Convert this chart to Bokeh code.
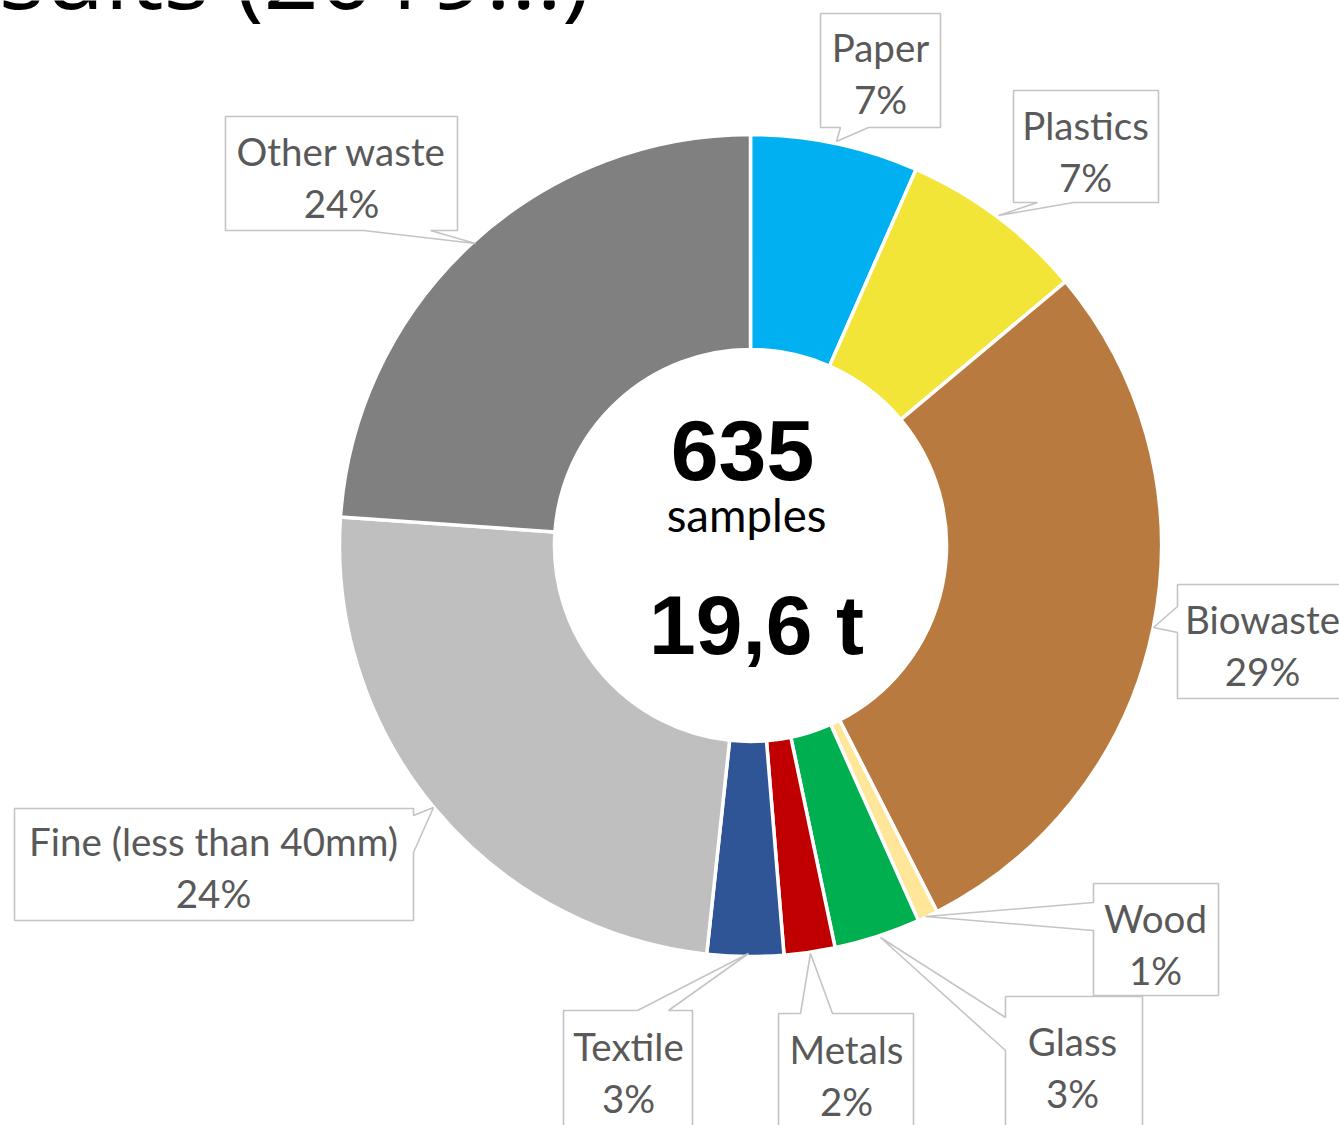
import numpy as np
from bokeh.plotting import figure
from bokeh.models import Range1d, ColumnDataSource
from bokeh.core.properties import value
from bokeh.embed import file_html
from bokeh.resources import INLINE

# ---------------- data ----------------
categories = ["Paper", "Plastics", "Biowaste", "Wood", "Glass", "Metals",
              "Textile", "Fine (less than 40mm)", "Other waste"]
shares = [6.6, 7.3, 28.6, 0.8, 3.4, 2.0, 3.0, 24.4, 23.9]
colors = ["#00B0F0", "#F2E537", "#B87A3E", "#FFE699", "#00B050", "#C00000",
          "#2F5597", "#BFBFBF", "#808080"]
center_count = "635"
center_count_label = "samples"
center_mass = "19,6 t"
title_text = "Results (2019...)"

# ---------------- layout (pixel coords, y measured from top) ----------------
W, H = 1339, 1125
CX, CY = 750, 545
R_IN, R_OUT = 196, 411

# callout: box (x0, y0, x1, y1), wedge side, wedge base (a, b), tip, text centre x, first line middle y
callouts = {
    "Paper":    dict(box=(820, 13, 940, 127), side="bottom", base=(840, 868), tip=(836, 141), tx=880, ty=46),
    "Plastics": dict(box=(1013, 90, 1158, 202), side="bottom", base=(1037, 1073), tip=(998, 215), tx=1085, ty=124),
    "Biowaste": dict(box=(1177, 584, 1350, 698), side="left", base=(606, 632), tip=(1153, 627), tx=1262, ty=618),
    "Wood":     dict(box=(1093, 883, 1218, 995), side="left", base=(902, 930), tip=(925, 916), tx=1155, ty=917),
    "Glass":    dict(box=(1005, 996, 1142, 1140), side="left", base=(1017, 1050), tip=(880, 937), tx=1072, ty=1040),
    "Metals":   dict(box=(778, 1013, 913, 1140), side="top", base=(800, 832), tip=(810, 953), tx=846, ty=1048),
    "Textile":  dict(box=(563, 1010, 692, 1140), side="top", base=(637, 668), tip=(748, 953), tx=628, ty=1045),
    "Fine (less than 40mm)": dict(box=(14, 808, 413, 920), side="right", base=(815, 852), tip=(433, 807), tx=213, ty=840),
    "Other waste": dict(box=(225, 116, 457, 230), side="bottom", base=(363, 430), tip=(475, 243), tx=341, ty=150),
}
LINE_GAP = 52


def callout_polygon(c):
    x0, y0, x1, y1 = c["box"]
    a, b = sorted(c["base"])
    t = c["tip"]
    s = c["side"]
    pts = [(x0, y0)]
    if s == "top":
        pts += [(a, y0), t, (b, y0)]
    pts += [(x1, y0)]
    if s == "right":
        pts += [(x1, a), t, (x1, b)]
    pts += [(x1, y1)]
    if s == "bottom":
        pts += [(b, y1), t, (a, y1)]
    pts += [(x0, y1)]
    if s == "left":
        pts += [(x0, b), t, (x0, a)]
    xs = [p[0] for p in pts]
    ys = [H - p[1] for p in pts]
    return xs, ys


p = figure(width=W, height=H, x_range=Range1d(0, W), y_range=Range1d(0, H),
           output_backend="svg", toolbar_location=None, min_border=0,
           x_axis_type=None, y_axis_type=None)
p.grid.visible = False
p.outline_line_color = None
p.background_fill_color = "white"
p.border_fill_color = "white"

# donut
frac = np.array(shares) / np.sum(shares)
cum = np.concatenate([[0.0], np.cumsum(frac)])
start = np.pi / 2 - 2 * np.pi * cum[:-1]
end = np.pi / 2 - 2 * np.pi * cum[1:]
src = ColumnDataSource(dict(cat=categories, start=start, end=end, color=colors))
p.annular_wedge(x=CX, y=H - CY, inner_radius=R_IN, outer_radius=R_OUT,
                start_angle="start", end_angle="end", direction="clock",
                fill_color="color", line_color="white", line_width=3.5, source=src)

# callouts
pxs, pys, tx, ty, tt = [], [], [], [], []
for cat, sh in zip(categories, shares):
    c = callouts[cat]
    xs, ys = callout_polygon(c)
    pxs.append(xs)
    pys.append(ys)
    tx += [c["tx"], c["tx"]]
    ty += [H - c["ty"], H - c["ty"] - LINE_GAP]
    tt += [cat, f"{int(round(sh))}%"]

p.patches(pxs, pys, fill_color="white", line_color="#C4C4C4", line_width=1.6)
p.text(x=tx, y=ty, text=tt, text_align="center", text_baseline="middle",
       text_font=value("Lato"), text_font_size="38.5px", text_color="#595959")

# centre texts
p.text(x=[742], y=[H - 450], text=[center_count], text_align="center",
       text_baseline="middle", text_font=value("Liberation Sans"),
       text_font_style="bold", text_font_size="86px", text_color="black")
p.text(x=[746], y=[H - 514], text=[center_count_label], text_align="center",
       text_baseline="middle", text_font=value("Lato"),
       text_font_size="45.5px", text_color="black")
p.text(x=[756], y=[H - 624], text=[center_mass], text_align="center",
       text_baseline="middle", text_font=value("Liberation Sans"),
       text_font_style="bold", text_font_size="84px", text_color="black")

# cropped title at the very top
p.text(x=[590], y=[H + 30], text=[title_text], text_align="right",
       text_baseline="middle", text_font=value("Open Sans"),
       text_font_size="97px", text_color="black")

open("out.html", "w").write(file_html(p, INLINE))
